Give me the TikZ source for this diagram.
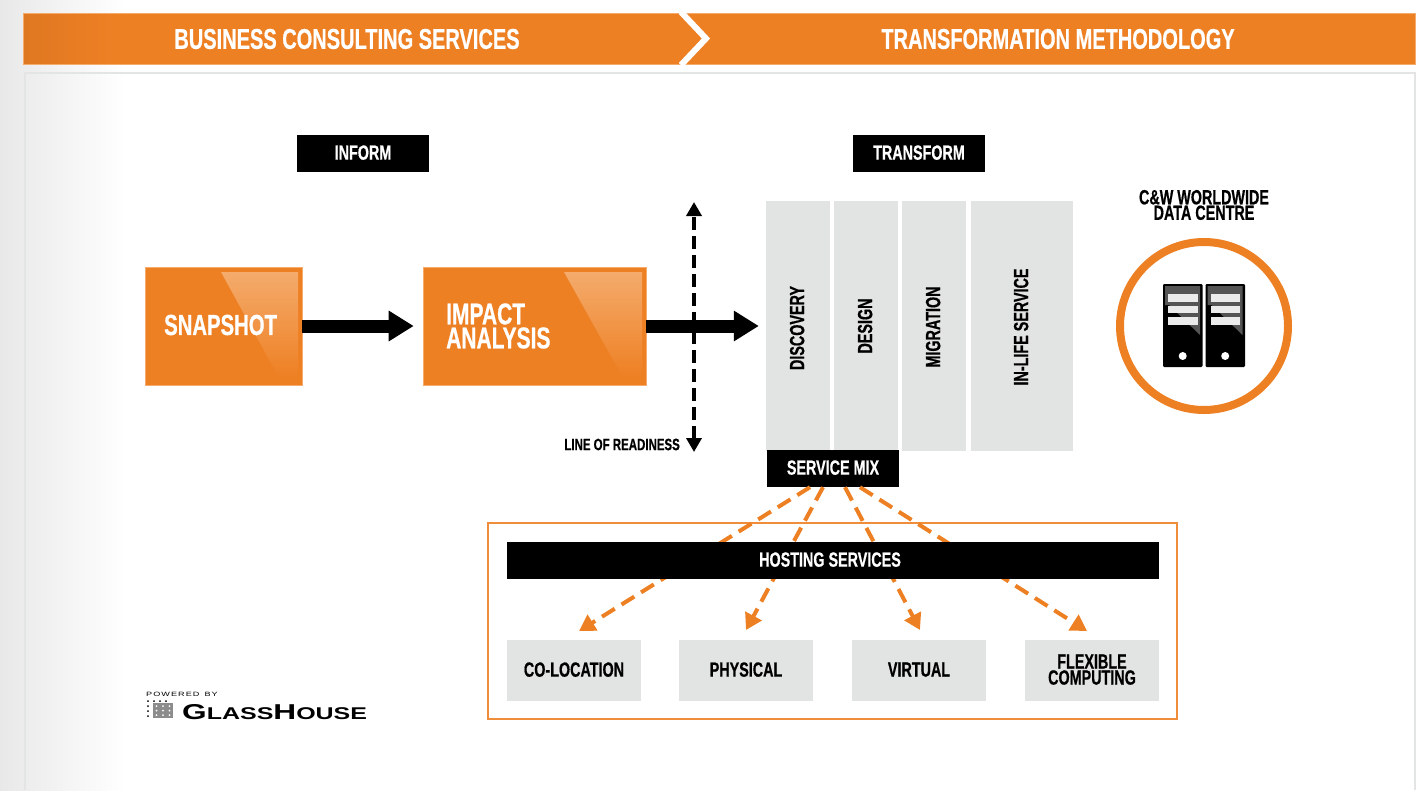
\documentclass[tikz,border=0pt]{standalone}
\usepackage{fontspec}
\usepackage{tikz}
\usetikzlibrary{arrows.meta,calc}
\newfontfamily\condfont[FakeStretch=.70,FakeBold=.6]{Liberation Sans}
\newfontfamily\logofont[FakeStretch=1.47]{Liberation Sans}
\newcommand{\tight}[2]{\fontsize{#1}{#2}\selectfont}
\definecolor{cworange}{HTML}{EE8024}
\definecolor{cwdark}{HTML}{DF7822}
\definecolor{cwglow}{HTML}{F4AB6C}
\definecolor{cwgrey}{HTML}{E2E4E3}
\definecolor{cwedge}{HTML}{E3E5E4}
\definecolor{cwband}{HTML}{555555}
\tikzset{
  textlabel/.style={font=\condfont\bfseries\tight{#1}{#1},align=center,inner sep=0pt},
  blackbox/.style={fill=black,text=white,minimum height=37pt,inner sep=0pt,text depth=2pt,font=\condfont\bfseries\tight{20.5}{18}},
  greybox/.style={fill=cwgrey,inner sep=0pt,align=center,text depth=2pt,font=\condfont\bfseries\tight{20.5}{16}},
  orangebox/.style={fill=cworange,draw=cwglow,line width=.6pt,minimum height=118pt,inner sep=0pt},
  flow/.style={line width=13pt,-{Triangle[length=25pt,width=29pt]}},
  dashflow/.style={draw=cworange,line width=4pt,dash pattern=on 15pt off 8pt,-{Triangle[length=16pt,width=18pt]}}
}
\begin{document}
\begin{tikzpicture}[x=1pt,y=-1pt]
\useasboundingbox (0,0) rectangle (1427,790);

%background and panel
\shade[left color=black!9,right color=white] (0,0) rectangle (125,790);
\draw[cwedge,line width=2.5pt] (25,790) -- (25,73) -- (1415,73) -- (1415,790);

%header
\fill[cworange] (115,13) rectangle (1415,64);
\shade[left color=cwdark,right color=cworange] (23,13) rectangle (115,64);
\draw[cwglow,line width=.7pt] (23,64) -- (23,13) -- (1415,13) -- (1415,64) -- cycle;
\coordinate (charta) at (681,12);
\coordinate (chartb) at (706,38.5);
\coordinate (chartc) at (681,65);
\draw[white,line width=6pt,miter limit=10] (charta) -- (chartb) -- (chartc);
\node[textlabel=28.6,text=white] (business) at (347,39) {BUSINESS CONSULTING SERVICES};
\node[textlabel=28.6,text=white] (method) at (1058,39) {TRANSFORMATION METHODOLOGY};

\node[blackbox,minimum width=132pt] (inform) at (363,153.5) {INFORM};
\node[blackbox,minimum width=132pt] (transform) at (919,153.5) {TRANSFORM};

%the two orange boxes
\node[orangebox,minimum width=157pt] (snapshot) at (223.5,326) {};
\shade[top color=cwglow,bottom color=cworange] (221,272) -- (298,272) -- (298,376) -- (278,376) -- cycle;
\node[textlabel=29,text=white,anchor=west] (snaptext) at (164,325) {SNAPSHOT};
\node[orangebox,minimum width=223pt] (impact) at (534.5,326) {};
\shade[top color=cwglow,bottom color=cworange] (564,272) -- (642,272) -- (642,376) -- (622,376) -- cycle;
\node[textlabel=30,font=\condfont\bfseries\tight{30}{24},text=white,anchor=west,align=left] (impacttext) at (446,326) {IMPACT\\ANALYSIS};

%columns
\node[greybox,minimum width=64pt,minimum height=250pt] (discovery) at (798,326) {};
\node[greybox,minimum width=64pt,minimum height=250pt] (design) at (866,326) {};
\node[greybox,minimum width=64pt,minimum height=250pt] (migration) at (934,326) {};
\node[greybox,minimum width=102pt,minimum height=250pt] (inlife) at (1022,326) {};
\node[greybox,rotate=90] (discoverytext) at ($(discovery)+(0,2)$) {DISCOVERY};
\node[greybox,rotate=90] (designtext) at (design) {DESIGN};
\node[greybox,rotate=90] (migrationtext) at ($(migration)+(0,1)$) {MIGRATION};
\node[greybox,rotate=90] (inlifetext) at ($(inlife)+(0,1)$) {IN-LIFE SERVICE};

%line of readiness
\coordinate (readytop) at (694,202);
\coordinate (readybot) at (694,452);
\draw[line width=4pt,dash pattern=on 13pt off 6pt,{Triangle[length=14pt,width=15pt]}-{Triangle[length=14pt,width=15pt]}] (readybot) -- (readytop);
\node[textlabel=16.4,anchor=east] (ready) at (680,444.5) {LINE OF READINESS};

\draw[flow,shorten >=9pt] (snapshot.east) -- (impact.west);
\draw[flow,shorten >=7pt] (impact.east) -- (discovery.west);

%data centre
\node[textlabel=20.5,font=\condfont\bfseries\tight{20.5}{15.5}] (centre) at (1204,205) {C\&W WORLDWIDE\\DATA CENTRE};
\node[circle,draw=cworange,line width=8pt,minimum size=168pt,inner sep=0pt] (ring) at (1204,326) {};
\foreach \sx in {0,42.5}{
  \begin{scope}[shift={(\sx,0)}]
  \fill[black,rounded corners=1.2pt] (1163,284) rectangle (1202.5,367);
  \fill[cwband] (1165,286) -- (1200,286) -- (1200,335) -- (1169,305) -- (1165,305) -- cycle;
  \foreach \sy in {294,305.5,317}
    \fill[white!92!black] (1168,\sy) rectangle (1197.5,\sy+7.5);
  \fill[white] (1182.7,356) circle (4);
  \end{scope}
}

%hosting
\node[draw=cworange!90!white,line width=2pt,minimum width=689pt,minimum height=196pt,inner sep=0pt] (frame) at (832.5,621) {};
\node[blackbox,minimum width=132pt] (mix) at (833,468.5) {SERVICE MIX};
\node[greybox,minimum width=134pt,minimum height=61pt] (coloc) at (574,670.5) {CO-LOCATION};
\node[greybox,minimum width=134pt,minimum height=61pt] (physical) at (746,670.5) {PHYSICAL};
\node[greybox,minimum width=134pt,minimum height=61pt] (virtual) at (919,670.5) {VIRTUAL};
\node[greybox,minimum width=134pt,minimum height=61pt] (flexible) at (1092,670.5) {FLEXIBLE\\COMPUTING};

\coordinate (tipa) at (579,631);
\coordinate (tipb) at (746,630);
\coordinate (tipc) at (920,630);
\coordinate (tipd) at (1087,631);
\draw[dashflow] ($(mix.south)+(-23,0)$) -- (tipa);
\draw[dashflow] ($(mix.south)+(-10,0)$) -- (tipb);
\draw[dashflow] ($(mix.south)+(12,0)$) -- (tipc);
\draw[dashflow] ($(mix.south)+(27,0)$) -- (tipd);
\node[blackbox,minimum width=652pt] (hosting) at (833,560.5) {\hspace{-6pt}HOSTING SERVICES};

%logo
\node[anchor=west,inner sep=0pt,font=\logofont\tight{6.2}{6}] (powered) at (146,694) {P\,O\,W\,E\,R\,E\,D\ \ B\,Y};
\fill[black!45] (153,703) rectangle (173,718);
\foreach \ix in {0,1,2}
  \foreach \iy in {0,1,2}
    \fill[white] (156.5+\ix*6.5,706+\iy*4.5) circle (1);
\foreach \ix in {0,1,2,3}
  \fill[black] (148+\ix*6,701) circle (1);
\foreach \iy in {1,2,3}
  \fill[black] (148,701+\iy*5) circle (1);
\node[anchor=west,inner sep=0pt,font=\logofont\bfseries\tight{21.5}{22}] (glass) at (182,712) {G{\tight{17}{17}LASS}H{\tight{17}{17}OUSE}};
\end{tikzpicture}
\end{document}
